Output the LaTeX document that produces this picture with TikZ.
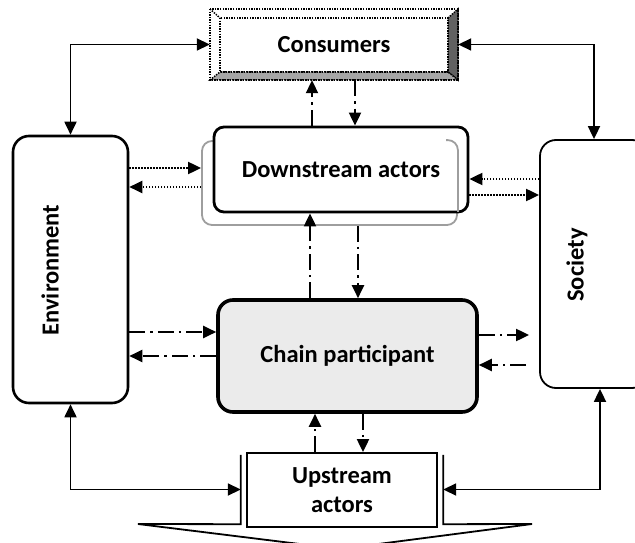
\documentclass[tikz,border=0pt]{standalone}
\usepackage{fontspec}
\setmainfont{Carlito}
\usetikzlibrary{arrows.meta}
\begin{document}
\begin{tikzpicture}[x=1pt,y=-1pt,
  lbl/.style={font=\fontsize{24.5}{29.5}\selectfont\bfseries, align=center},
  tip/.style={-{Triangle[length=13pt,width=12pt]}},
  both/.style={{Triangle[length=13pt,width=12pt]}-{Triangle[length=13pt,width=12pt]}},
  solidlink/.style={line width=1.8pt},
  dashdot/.style={line width=2pt, dash pattern=on 16pt off 5pt on 2.5pt off 5pt},
  dotline/.style={line width=2pt, dash pattern=on 1.6pt off 1.4pt},
  bevel/.style={line width=1.5pt, dash pattern=on 1.4pt off 1.2pt},
  sidebox/.style={rectangle, rounded corners=16pt, inner sep=0pt},
  graybox/.style={draw=black!38, line width=1.8pt, rounded corners=10pt},
]
\useasboundingbox (0,0) rectangle (635,543);
\clip (0,0) rectangle (635,543);

% Consumers: bevelled frame
\fill[white] (210,9) rectangle (458,80);
\filldraw[bevel, fill=black!62] (448,18) -- (458,9) -- (458,80) -- (448,72) -- cycle;
\filldraw[bevel, fill=black!35] (220,72) -- (448,72) -- (458,80) -- (210,80) -- cycle;
\draw[bevel] (210,9) rectangle (458,80);
\draw[bevel] (220,18) rectangle (448,72);
\draw[bevel] (210,9) -- (220,18);
\node[lbl, minimum width=248pt, minimum height=71pt, inner sep=0pt] (cons) at (334,44.5) {Consumers};

% Environment and Society
\node[sidebox, draw, line width=2.6pt, minimum width=115pt, minimum height=267pt] (env) at (70.5,269.5) {};
\node[lbl, rotate=90] (envtext) at (50,270) {Environment};
\node[sidebox, draw, line width=1.8pt, minimum width=108pt, minimum height=248pt] (soc) at (594,264) {};
\node[lbl, rotate=90] (soctext) at (577,265) {Society};

% Downstream actors: grey shadow frame and black box
\node[graybox, draw, minimum width=255pt, minimum height=84pt] (dng) at (329.5,183) {};
\node[rectangle, rounded corners=10pt, draw, fill=white, line width=2.8pt,
      minimum width=254pt, minimum height=85pt, lbl] (dn) at (341,169.5) {Downstream actors};
\begin{scope}
  \clip (446,128) rectangle (466,211);
  \draw[graybox] (dng.south west) rectangle (dng.north east);
\end{scope}

% Chain participant
\node[rectangle, rounded corners=15pt, draw, fill=black!8, line width=3.6pt,
      minimum width=259pt, minimum height=112pt, lbl] (ch) at (347.5,356) {Chain participant};

% Upstream actors with its arrow-shaped base
\node[minimum width=202pt, minimum height=69pt, inner sep=0pt] (upbox) at (342,489.5) {};
\draw[line width=1.8pt] (upbox.north west) -- (upbox.south west) -- (138,524) -- (340,549)
  -- (532,524) -- (upbox.south east) -- (upbox.north east);
\node[rectangle, draw, fill=white, line width=1.8pt, minimum width=190pt, minimum height=74pt,
      lbl] (up) at (342,490) {Upstream\\actors};

% Solid two-way links
\draw[solidlink, both] (env.north) |- (cons.west);
\draw[solidlink, both] (cons.east) -| (soc.north);
\draw[solidlink, both] (env.south) |- (upbox.west);
\draw[solidlink, both] ([xshift=6pt]soc.south) |- (upbox.east);

% Consumers <-> Downstream
\draw[dashdot, tip] (dn.north -| 312,0) -- (cons.south -| 312,0);
\draw[dashdot, tip] (cons.south -| 355,0) -- (dn.north -| 355,0);

% Environment / Society <-> Downstream
\draw[dotline, tip] (env.east |- 0,168) -- (dng.west |- 0,168);
\draw[dotline, tip] (dng.west |- 0,187) -- (env.east |- 0,187);
\draw[dotline, tip] (soc.west |- 0,179) -- (dn.east |- 0,179);
\draw[dotline, tip] (dn.east |- 0,195) -- (soc.west |- 0,195);

% Downstream <-> Chain participant
\draw[dashdot, tip] (ch.north -| 310,0) -- (dn.south -| 310,0);
\draw[dashdot, tip] (dng.south -| 358,0) -- (ch.north -| 358,0);

% Environment / Society <-> Chain participant
\draw[dashdot, tip] (env.east |- 0,332) -- (ch.west |- 0,332);
\draw[dashdot, tip] (ch.west |- 0,356) -- (env.east |- 0,356);
\draw[dashdot, tip, shorten >=10pt] (ch.east |- 0,335) -- (soc.west |- 0,335);
\draw[dashdot, tip, shorten <=13pt] (soc.west |- 0,365) -- (ch.east |- 0,365);

% Chain participant <-> Upstream
\draw[dashdot, tip] (up.north -| 315,0) -- (ch.south -| 315,0);
\draw[dashdot, tip] (ch.south -| 363,0) -- (up.north -| 363,0);
\end{tikzpicture}
\end{document}
